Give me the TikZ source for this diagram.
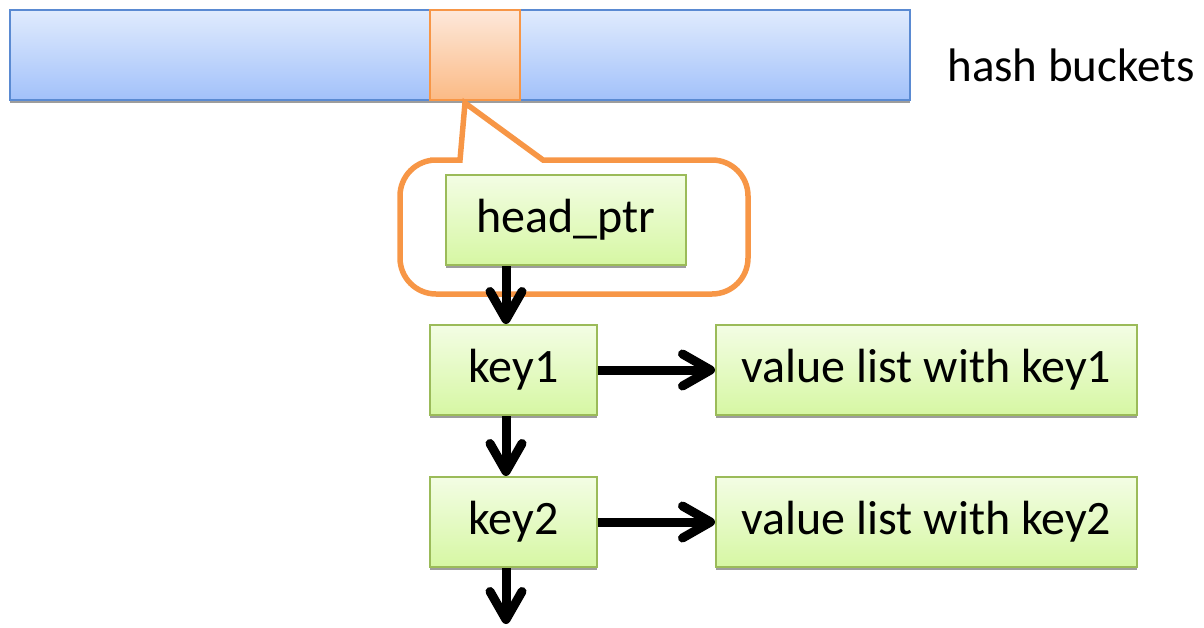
\documentclass[tikz,border=0pt]{standalone}
\usepackage{fontspec}
\setmainfont{Carlito}
\usetikzlibrary{arrows.meta,shadows}

\definecolor{barTop}{HTML}{E0EBFD}
\definecolor{barBot}{HTML}{A2C1FA}
\definecolor{barLine}{HTML}{5A8AD2}
\definecolor{cellTop}{HTML}{FDE8DA}
\definecolor{cellBot}{HTML}{FBBA85}
\definecolor{orangeLine}{HTML}{F79646}
\definecolor{boxTop}{HTML}{F3FDE4}
\definecolor{boxBot}{HTML}{D6F7A3}
\definecolor{boxLine}{HTML}{9BBB59}

\tikzset{
  flatshadow/.style={drop shadow={shadow xshift=0pt, shadow yshift=-3pt, fill=black!55, opacity=.7}},
  bucketbar/.style={draw=barLine, line width=2pt, top color=barTop, bottom color=barBot,
    minimum width=900pt, minimum height=90pt, inner sep=0pt, flatshadow},
  bucketcell/.style={draw=orangeLine, line width=2.5pt, top color=cellTop, bottom color=cellBot,
    minimum width=90pt, minimum height=90pt, inner sep=0pt},
  listbox/.style={draw=boxLine, line width=2pt, top color=boxTop, bottom color=boxBot,
    minimum height=90pt, inner sep=0pt, font=\fontsize{48}{56}\selectfont, flatshadow},
  ptr/.style={line width=9pt, -{Straight Barb[length=28pt, width=32pt, round]},
    preaction={draw=black!60, opacity=.6, transform canvas={shift={(0.5pt,-3pt)}}}},
  callout/.style={draw=orangeLine, line width=5.5pt, line join=miter},
}

\begin{document}
\begin{tikzpicture}[x=1pt, y=-1pt]
\useasboundingbox (0,0) rectangle (1204,627);

% hash bucket array with the selected bucket
\node[bucketbar] (buckets) at (460,55) {};
\node[bucketcell] (cell) at (475,55) {};
\node[anchor=base, font=\fontsize{47}{56}\selectfont] (lbl) at (1071,81) {hash buckets};

% speech-bubble outline pointing at the selected bucket
\draw[callout] (430,160) -- (460,160) -- (465,103) -- (543,160) -- (600,160)
  [rounded corners=36pt] -- (748,160) -- (748,294) -- (400,294) -- (400,160) -- (431,160);

% list nodes
\node[listbox, minimum width=240pt] (head) at (566,220) {head\_ptr};
\node[listbox, minimum width=167pt] (key1) at (513.5,370) {key1};
\node[listbox, minimum width=421pt] (val1) at (926.5,370) {value list with key1};
\node[listbox, minimum width=167pt] (key2) at (513.5,522) {key2};
\node[listbox, minimum width=421pt] (val2) at (926.5,522) {value list with key2};

% pointers
\coordinate (spine) at (506,0);
\coordinate (tail) at (506,624);
\draw[ptr] (head.south -| spine) -- (key1.north -| spine);
\draw[ptr] (key1.south -| spine) -- (key2.north -| spine);
\draw[ptr] (key2.south -| spine) -- (tail);
\draw[ptr] (key1.east) -- (val1.west);
\draw[ptr] (key2.east) -- (val2.west);
\end{tikzpicture}
\end{document}
